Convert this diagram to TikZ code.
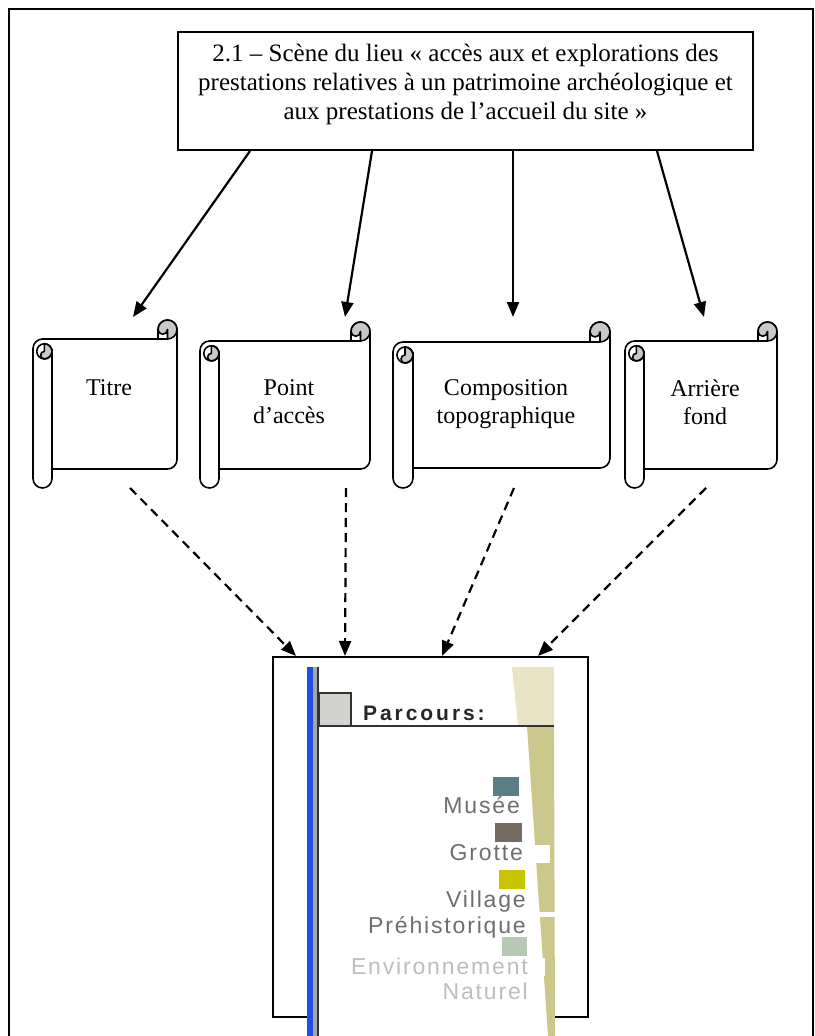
\documentclass[tikz,border=0pt]{standalone}
\usepackage{fontspec}
\setmainfont{Liberation Serif}
\newfontfamily\ecranfont{Liberation Sans}[LetterSpace=8]
\newfontfamily\ecrantitrefont{Liberation Sans}[LetterSpace=14]
\usepackage{tikz}
\usetikzlibrary{arrows.meta}

\definecolor{ombre}{HTML}{C8C8C8}
\definecolor{bleubarre}{HTML}{1F4FE6}
\definecolor{sable}{HTML}{E9E4C6}
\definecolor{kaki}{HTML}{CCC78A}
\definecolor{carreparcours}{HTML}{D2D2CE}
\definecolor{musee}{HTML}{5B7D84}
\definecolor{grotte}{HTML}{766B61}
\definecolor{village}{HTML}{C9C400}
\definecolor{environnement}{HTML}{B7C8B5}
\definecolor{grislegende}{HTML}{6E6E6E}
\definecolor{grisclair}{HTML}{BDBDBD}

% parchemin : gauche, haut, droite, bas, taille du rouleau
\newcommand{\parchemin}[5]{%
  \pgfmathsetmacro{\rlC}{#5}%
  \pgfmathsetmacro{\rlH}{#5/2}%
  \pgfmathsetmacro{\rlQ}{#5/4}%
  \pgfmathsetmacro{\rlS}{0.4*#5}%
  \pgfmathsetmacro{\rlT}{0.2*#5}%
  % contour
  \draw[rouleau, fill=white] ({#1},{#2+1.5*\rlC})
     arc[start angle=180, end angle=90, radius=\rlH pt]
     -- ({#3-\rlC},{#2+\rlC}) -- ({#3-\rlC},{#2+\rlH})
     arc[start angle=180, end angle=0, radius=\rlH pt]
     -- ({#3},{#4-1.5*\rlC})
     arc[start angle=0, end angle=-90, radius=\rlH pt]
     -- ({#1+\rlC},{#4-\rlC}) -- ({#1+\rlC},{#4-\rlH})
     arc[start angle=0, end angle=-180, radius=\rlH pt]
     -- cycle;
  % rouleau gauche
  \draw[rouleau] ({#1+\rlC},{#2+1.5*\rlC}) -- ({#1+\rlC},{#4-\rlH});
  \filldraw[rouleau, fill=ombre] ({#1+\rlC-\rlS},{#2+\rlC+\rlQ})
     arc[start angle=90, end angle=-90, radius=\rlS pt]
     arc[start angle=-90, end angle=-270, radius=\rlT pt]
     -- cycle;
  \draw[rouleau] ({#1+\rlC-\rlS},{#2+\rlC+\rlQ+\rlS}) circle[radius=\rlS pt];
  % rouleau droit
  \filldraw[rouleau, fill=ombre] ({#3-\rlH},{#2+\rlH}) circle[radius=\rlH pt];
  \filldraw[rouleau, fill=white] ({#3-\rlC},{#2+\rlC}) -- ({#3-\rlC},{#2+\rlH})
     arc[start angle=180, end angle=360, radius=\rlQ pt]
     -- ({#3-\rlH},{#2+\rlC}) -- cycle;
}

\begin{document}
\begin{tikzpicture}[
    x=1pt, y=-1pt,
    rouleau/.style={line width=1.6pt, line join=round},
    boite/.style={draw, line width=2pt, inner sep=0pt},
    fleche/.style={-{Triangle[length=15pt, width=12pt]}, line width=2.2pt},
    pointille/.style={fleche, dash pattern=on 9pt off 6pt},
    texte/.style={anchor=north, align=center, inner sep=0pt, font=\fontsize{24}{28}\selectfont},
    legende/.style={anchor=base east, inner sep=0pt, font=\ecranfont\fontsize{23}{26}\selectfont, text=grislegende}
]
  \useasboundingbox (0,0) rectangle (814,1036);

  % Cadre
  \draw[line width=2pt] (8.5,1040) -- (8.5,8.5) -- (812.5,8.5) -- (812.5,1040);

  % Scene du lieu
  \node[boite, minimum width=575pt, minimum height=118pt] (scene) at (465.5,91) {};
  \node[anchor=north, align=center, inner sep=0pt, font=\fontsize{25}{29}\selectfont] (scene-texte) at (465.5,44)
    {2.1 – Scène du lieu « accès aux et explorations des\\
     prestations relatives à un patrimoine archéologique et\\
     aux prestations de l’accueil du site »};

  % Coordinates
  \coordinate (titre-in)  at (133,317);
  \coordinate (point-in)  at (345,317);
  \coordinate (compo-in)  at (513,317);
  \coordinate (fond-in)   at (704,317);
  \coordinate (titre-out) at (130,488);
  \coordinate (point-out) at (346,488);
  \coordinate (compo-out) at (514,488);
  \coordinate (fond-out)  at (706,488);

  % Fleches vers les parchemins
  \draw[fleche] ([xshift=-215.5pt]scene.south) -- (titre-in);
  \draw[fleche] ([xshift=-93.5pt]scene.south) -- (point-in);
  \draw[fleche] ([xshift=47.5pt]scene.south) -- (compo-in);
  \draw[fleche] ([xshift=191.5pt]scene.south) -- (fond-in);

  % Parchemins
  \parchemin{33}{320}{177}{488}{19}
  \parchemin{200}{322}{370}{488}{19}
  \parchemin{393}{322}{610}{488}{20}
  \parchemin{625}{322}{777}{488}{19}

  \node[texte] (titre) at (109,379.6) {Titre};
  \node[texte] (point) at (289,379.6) {Point\\d’accès};
  \node[texte] (compo) at (506,379.6) {Composition\\topographique};
  \node[texte] (fond)  at (705,379.6) {Arrière\\fond};

  % Ecran
  \node[boite, minimum width=315pt, minimum height=360pt] (ecran) at (430.5,837) {};

  \fill[white] (307,667) rectangle (554,1036);
  \fill[sable] (512,667) -- (554,667) -- (554,726) -- (518,726) -- cycle;
  \fill[kaki] (527,726) -- (554,726) -- (555,1036) -- (548,1036) -- cycle;
  \fill[white] (530,845) rectangle (550,863);
  \fill[white] (530,912) rectangle (556,917);
  \fill[white] (530,958) rectangle (545,976);
  \fill[bleubarre] (307,667) rectangle (313,1036);
  \fill[gray!70] (313,667) rectangle (319,1036);
  \draw[line width=1.2pt, black!80] (318,667) -- (318,1036);
  \filldraw[fill=carreparcours, draw=black!80, line width=1.2pt] (319,693) rectangle (351,726);
  \draw[line width=1.2pt, black!80] (319,726) -- (554,726);
  \node[anchor=base west, inner sep=0pt, text=black!85, font=\ecrantitrefont\bfseries\fontsize{21}{25}\selectfont]
    (parcours) at (363,720) {Parcours:};

  % Legende
  \fill[musee] (493,777) rectangle (519,796);
  \fill[grotte] (495,823) rectangle (522,842);
  \fill[village] (499,870) rectangle (525,889);
  \fill[environnement] (502,937) rectangle (527,956);
  \node[legende] (musee-txt)   at (520,813) {Musée};
  \node[legende] (grotte-txt)  at (523,860) {Grotte};
  \node[legende] (village-txt) at (526,907) {Village};
  \node[legende] (prehisto)    at (526,933) {Préhistorique};
  \node[legende, text=grisclair] (env-txt) at (528,974) {Environnement};
  \node[legende, text=grisclair] (naturel) at (528,999) {Naturel};

  % Fleches vers l'ecran
  \draw[pointille] (titre-out) -- ([xshift=24pt]ecran.north west);
  \draw[pointille] (point-out) -- ([xshift=73pt]ecran.north west);
  \draw[pointille] (compo-out) -- ([xshift=170pt]ecran.north west);
  \draw[pointille] (fond-out)  -- ([xshift=266pt]ecran.north west);
\end{tikzpicture}
\end{document}
